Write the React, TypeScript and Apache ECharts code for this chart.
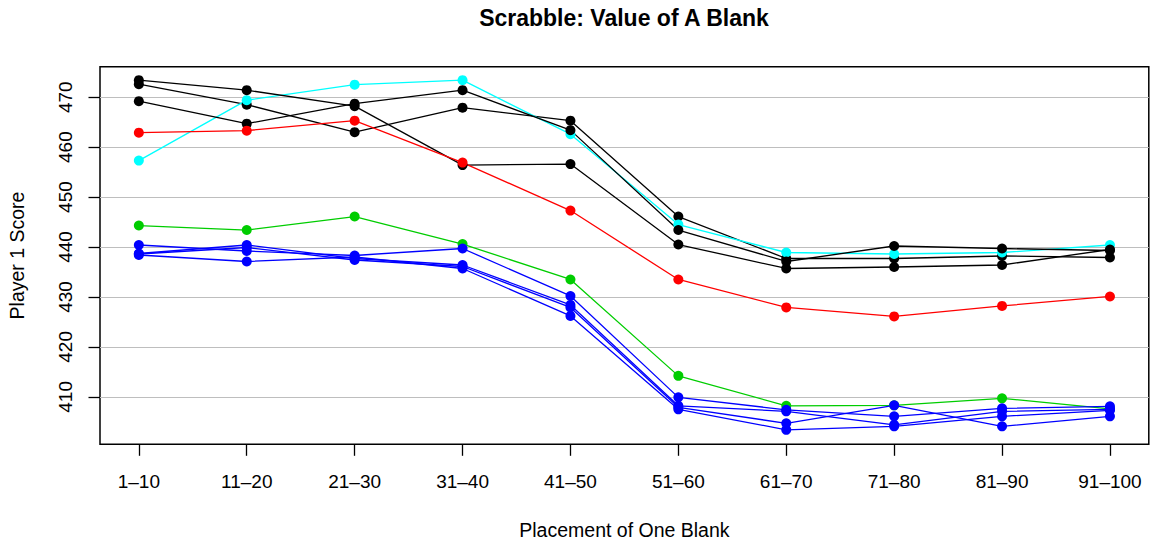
import React, { useEffect, useRef } from "react";
import * as echarts from "echarts";

const categories = ["1–10", "11–20", "21–30", "31–40", "41–50", "51–60", "61–70", "71–80", "81–90", "91–100"];
const xTicks = [1, 2, 3, 4, 5, 6, 7, 8, 9, 10];
const yTicks = [410, 420, 430, 440, 450, 460, 470];

const black1 = [473.4, 471.4, 468.2, 456.4, 456.6, 440.5, 435.7, 436.0, 436.4, 439.5];
const black2 = [472.6, 468.5, 463.0, 467.9, 465.3, 446.1, 437.7, 437.7, 438.2, 437.9];
const black3 = [469.2, 464.7, 468.7, 471.4, 463.4, 443.4, 437.1, 440.2, 439.7, 439.3];
const cyan1 = [457.3, 469.4, 472.5, 473.4, 462.6, 444.5, 438.9, 438.6, 438.9, 440.4];
const red1 = [462.9, 463.3, 465.3, 456.9, 447.3, 433.5, 427.9, 426.1, 428.2, 430.1];
const green1 = [444.3, 443.4, 446.1, 440.6, 433.5, 414.2, 408.2, 408.3, 409.7, 407.6];
const blue1 = [440.4, 439.2, 438.3, 439.7, 430.2, 409.9, 407.4, 406.1, 407.7, 408.1];
const blue2 = [438.7, 440.4, 437.7, 436.4, 428.4, 408.2, 407.1, 404.4, 407.1, 407.5];
const blue3 = [438.6, 439.9, 437.4, 436.1, 427.9, 407.9, 404.7, 408.3, 404.1, 406.1];
const blue4 = [438.4, 437.1, 438.0, 435.7, 426.2, 407.5, 403.4, 404.1, 406.1, 407.3];

const seriesList: { values: number[]; color: string }[] = [
  { values: black2, color: "#000000" },
  { values: cyan1, color: "#00FFFF" },
  { values: black1, color: "#000000" },
  { values: black3, color: "#000000" },
  { values: red1, color: "#FF0000" },
  { values: green1, color: "#00CD00" },
  { values: blue1, color: "#0000FF" },
  { values: blue2, color: "#0000FF" },
  { values: blue3, color: "#0000FF" },
  { values: blue4, color: "#0000FF" },
];

const FONT = "'Liberation Sans', Arial, Helvetica, sans-serif";

export default function App() {
  const ref = useRef<HTMLDivElement>(null);
  useEffect(() => {
    if (!ref.current) return;
    const chart = echarts.init(ref.current, null, { renderer: "svg" });
    const option: any = {
      animation: false,
      backgroundColor: "#ffffff",
      graphic: [
        {
          type: "text",
          x: 624,
          y: 6.5,
          style: {
            text: "Scrabble: Value of A Blank",
            fontSize: 23,
            fontWeight: "bold",
            fontFamily: FONT,
            fill: "#000",
            align: "center",
            verticalAlign: "top",
          },
        },
      ],
      grid: {
        left: 100,
        top: 66.7,
        right: 2.2,
        bottom: 99.7,
        show: true,
        borderColor: "#000",
        borderWidth: 1.5,
        backgroundColor: "transparent",
        outerBoundsMode: "none",
      },
      xAxis: {
        type: "value",
        min: 0.64,
        max: 10.36,
        axisLine: { show: false },
        axisTick: { show: true, length: 11.5, customValues: xTicks, lineStyle: { color: "#000", width: 1.3 } },
        axisLabel: {
          customValues: xTicks,
          formatter: (v: number) => categories[Math.round(v) - 1] ?? "",
          fontSize: 19,
          fontFamily: FONT,
          color: "#000",
          margin: 28,
        },
        splitLine: { show: false },
        name: "Placement of One Blank",
        nameLocation: "middle",
        nameGap: 75.5,
        nameTextStyle: { fontSize: 19.5, fontFamily: FONT, color: "#000" },
      },
      yAxis: {
        type: "value",
        min: 400.5,
        max: 476.1,
        axisLine: { show: false },
        axisTick: { show: true, length: 11.5, customValues: yTicks, lineStyle: { color: "#000", width: 1.3 } },
        axisLabel: {
          customValues: yTicks,
          rotate: 90,
          fontSize: 19,
          fontFamily: FONT,
          color: "#000",
          margin: 25,
        },
        splitLine: { show: true, lineStyle: { color: "#bebebe", width: 1.2 } },
        name: "Player 1 Score",
        nameLocation: "middle",
        nameGap: 73,
        nameRotate: 90,
        nameTextStyle: { fontSize: 19.5, fontFamily: FONT, color: "#000" },
      },
      series: seriesList.map((s) => ({
        type: "line",
        data: s.values.map((v, i) => [xTicks[i], v]),
        symbol: "circle",
        symbolSize: 10,
        showSymbol: true,
        lineStyle: { color: s.color, width: 1.3 },
        itemStyle: { color: s.color },
        emphasis: { disabled: true },
      })),
    };
    chart.setOption(option);
    return () => chart.dispose();
  }, []);
  return (
    <div
      ref={ref}
      style={{ position: "absolute", left: 0, top: 0, width: 1151, height: 544, background: "#fff" }}
    />
  );
}
